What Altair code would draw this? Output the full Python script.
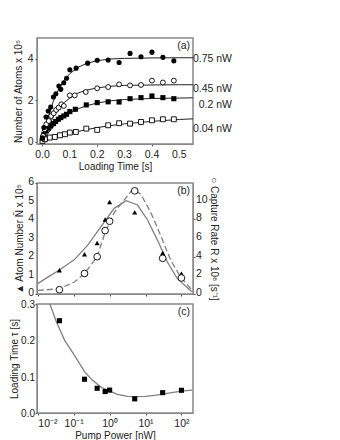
import altair as alt
import pandas as pd

# ---------------- Panel (a): loading curves ----------------
a_labels = ["0.75 nW", "0.45 nW", "0.2 nW", "0.04 nW"]

t_075 = [0.0, 0.005, 0.013, 0.021, 0.03, 0.04, 0.049, 0.06, 0.067, 0.078, 0.088, 0.1, 0.123, 0.165, 0.2, 0.24, 0.28, 0.32, 0.36, 0.40, 0.44, 0.48]
n_075 = [0.2, 0.69, 1.2, 1.49, 1.68, 2.16, 2.32, 2.69, 2.53, 2.85, 3.06, 3.47, 3.55, 3.79, 3.93, 3.94, 3.82, 4.26, 4.1, 4.32, 4.07, 3.9]

t_045 = [0.002, 0.008, 0.014, 0.023, 0.032, 0.041, 0.05, 0.059, 0.069, 0.078, 0.1, 0.118, 0.158, 0.2, 0.24, 0.28, 0.32, 0.36, 0.40, 0.44, 0.48]
n_045 = [0.29, 0.61, 0.85, 1.01, 1.25, 1.38, 1.54, 1.65, 1.81, 1.73, 2.24, 2.24, 2.4, 2.58, 2.64, 2.77, 2.72, 2.74, 2.95, 2.86, 2.95]

t_020 = [0.0, 0.005, 0.013, 0.021, 0.03, 0.04, 0.048, 0.058, 0.067, 0.078, 0.088, 0.1, 0.12, 0.16, 0.2, 0.24, 0.28, 0.32, 0.36, 0.40, 0.44, 0.48]
n_020 = [0.18, 0.37, 0.53, 0.66, 0.77, 0.88, 0.98, 1.09, 1.17, 1.25, 1.33, 1.46, 1.57, 1.78, 1.89, 1.93, 1.92, 2.08, 2.13, 2.21, 2.13, 2.08]

t_004 = [0.0, 0.009, 0.027, 0.045, 0.064, 0.082, 0.1, 0.122, 0.16, 0.2, 0.24, 0.28, 0.32, 0.36, 0.40, 0.44, 0.48]
n_004 = [0.05, 0.13, 0.21, 0.24, 0.32, 0.37, 0.45, 0.48, 0.64, 0.58, 0.8, 0.9, 0.88, 0.96, 1.04, 1.09, 1.09]

# fitted curves
t_fit = [0.0, 0.02, 0.04, 0.06, 0.08, 0.1, 0.13, 0.16, 0.2, 0.25, 0.3, 0.4, 0.5, 0.55]
f_075 = [0.0, 1.15, 1.97, 2.56, 2.98, 3.28, 3.59, 3.77, 3.91, 3.99, 4.02, 4.04, 4.05, 4.05]
f_045 = [0.0, 0.70, 1.22, 1.61, 1.90, 2.11, 2.35, 2.49, 2.60, 2.68, 2.72, 2.74, 2.75, 2.75]
f_020 = [0.0, 0.41, 0.74, 1.01, 1.22, 1.39, 1.59, 1.74, 1.87, 1.98, 2.04, 2.09, 2.11, 2.12]
f_004 = [0.0, 0.096, 0.185, 0.266, 0.34, 0.41, 0.50, 0.59, 0.69, 0.79, 0.87, 0.99, 1.08, 1.11]

label_y = [4.0, 2.55, 1.8, 0.62]

a_xticks = [0.0, 0.1, 0.2, 0.3, 0.4, 0.5]
a_xlabels = ["0.0", "0.1", "0.2", "0.3", "0.4", "0.5"]
a_yticks = [0, 2, 4]

# ---------------- Panel (b): atom number & capture rate ----------------
power = [0.04, 0.2, 0.45, 0.75, 1.0, 5.0, 30.0, 100.0]
atom_n = [1.28, 2.15, 2.76, 4.03, 4.97, 4.41, 2.22, 1.1]
capture_r = [0.46, 2.2, 4.0, 6.8, 7.8, 11.06, 3.83, 1.72]

p_fit_n = [0.01, 0.019, 0.039, 0.105, 0.245, 0.57, 1.34, 2.9, 6.0, 11.4, 21.6, 40.6, 77.0, 178.0, 200.0]
fit_n = [0.56, 0.91, 1.28, 1.86, 2.64, 3.63, 4.63, 5.04, 4.81, 4.0, 2.9, 1.73, 0.83, 0.19, 0.12]
p_fit_r = [0.01, 0.039, 0.105, 0.2, 0.45, 0.74, 1.34, 4.4, 7.4, 14.1, 27.0, 50.0, 95.0, 200.0]
fit_r = [0.38, 0.56, 1.28, 2.2, 4.0, 6.54, 8.72, 11.24, 10.7, 8.72, 6.18, 3.64, 1.82, 0.38]

b_lticks = [0, 1, 2, 3, 4, 5, 6]
b_llabels = ["0", "1", "2", "3", "4", "5", "6"]
b_rticks = [0, 2, 4, 6, 8, 10]
b_rlabels = ["0", "2", "4", "6", "8", "10"]

# ---------------- Panel (c): loading time ----------------
tau = [0.254, 0.093, 0.068, 0.059, 0.063, 0.039, 0.056, 0.0625]
p_fit_tau = [0.02, 0.032, 0.056, 0.1, 0.2, 0.32, 0.575, 1.0, 1.66, 3.16, 5.0, 10.0, 20.0, 40.0, 100.0, 200.0]
fit_tau = [0.31, 0.254, 0.20, 0.162, 0.114, 0.092, 0.071, 0.060, 0.051, 0.046, 0.045, 0.046, 0.049, 0.054, 0.060, 0.063]

c_yticks = [0.0, 0.1, 0.2, 0.3]
c_ylabels = ["0.0", "0.1", "0.2", "0.3"]
pvals = [0.01, 0.1, 1, 10, 100]

W = 156
HA, HB, HC = 106, 111, 109
FONT = "Liberation Sans"
FS = 10.5
GRAY = "#808080"
TXT = "#222"


def tick_text(df, size=FS, **kw):
    return alt.Chart(df).mark_text(font=FONT, fontSize=size, color=TXT, **kw)


# ---------- build panel (a) ----------
pts_frames = []
for lab, ts, ns in [(a_labels[0], t_075, n_075), (a_labels[1], t_045, n_045),
                    (a_labels[2], t_020, n_020), (a_labels[3], t_004, n_004)]:
    pts_frames.append(pd.DataFrame({"t": ts, "N": ns, "series": lab}))
pts_a = pd.concat(pts_frames)
fit_a = pd.concat([pd.DataFrame({"t": t_fit, "N": f, "series": lab})
                   for lab, f in zip(a_labels, [f_075, f_045, f_020, f_004])])
lab_a = pd.DataFrame({"N": label_y, "text": a_labels})

xa = alt.X("t:Q", scale=alt.Scale(domain=[-0.02, 0.55], nice=False, zero=False),
           axis=alt.Axis(values=a_xticks, labels=False, title="Loading Time [s]",
                         titlePadding=15, grid=False))
ya = alt.Y("N:Q", scale=alt.Scale(domain=[-0.1, 5.0], nice=False, zero=False),
           axis=alt.Axis(values=a_yticks, format="d", title="Number of Atoms x 10⁵",
                         grid=False, labelPadding=2, titlePadding=4))

lines_a = alt.Chart(fit_a).mark_line(color="#222", strokeWidth=1, clip=True).encode(
    x=xa, y=ya, detail="series:N")


def pts(lab, shape, filled):
    base = alt.Chart(pts_a[pts_a.series == lab])
    if filled:
        m = base.mark_point(shape=shape, filled=True, color="black", size=26, opacity=1)
    else:
        m = base.mark_point(shape=shape, filled=True, fill="white", stroke="black",
                            strokeWidth=0.9, size=24, opacity=1)
    return m.encode(x="t:Q", y="N:Q")


xlab_a = tick_text(pd.DataFrame({"t": a_xticks, "lab": a_xlabels}),
                   align="center", baseline="top").encode(
    x="t:Q", y=alt.value(HA + 6), text="lab:N")
side_a = tick_text(lab_a, align="right", baseline="middle").encode(
    x=alt.value(W + 39), y="N:Q", text="text:N")
tag_a = tick_text(pd.DataFrame({"s": ["(a)"]}), align="right", baseline="top").encode(
    x=alt.value(W - 3), y=alt.value(3), text="s:N")

panel_a = alt.layer(lines_a, pts(a_labels[3], "square", False), pts(a_labels[2], "square", True),
                    pts(a_labels[1], "circle", False), pts(a_labels[0], "circle", True),
                    xlab_a, side_a, tag_a).properties(width=W, height=HA)

# ---------- build panel (b) ----------
xscale = alt.Scale(type="log", domain=[0.0095, 210], nice=False)

df_b = pd.DataFrame({"P": power, "N": atom_n, "R": capture_r})
df_fn = pd.DataFrame({"P": p_fit_n, "N": fit_n})
df_fr = pd.DataFrame({"P": p_fit_r, "R": fit_r})

xb = alt.X("P:Q", scale=xscale, axis=alt.Axis(values=pvals, labels=False, title=None, grid=False))
yb_left = alt.Y("N:Q", scale=alt.Scale(domain=[0, 6], nice=False),
                axis=alt.Axis(values=b_lticks, labels=False, grid=False, titlePadding=10,
                              title="▲ Atom Number N̄  x 10⁵"))
yb_right = alt.Y("R:Q", scale=alt.Scale(domain=[0, 11.9], nice=False),
                 axis=alt.Axis(orient="right", values=b_rticks, labels=False, grid=False,
                               titlePadding=13, title="○ Capture Rate R x 10⁶  [s⁻¹]"))

left_b = alt.layer(
    alt.Chart(df_fn).mark_line(color=GRAY, strokeWidth=1.3, clip=True).encode(x=xb, y=yb_left),
    alt.Chart(df_b).mark_point(shape="triangle-up", filled=True, color="black", size=26, opacity=1).encode(
        x="P:Q", y="N:Q"),
    tick_text(pd.DataFrame({"N": b_lticks, "lab": b_llabels}), align="right", baseline="middle",
              dy=-1).encode(x=alt.value(-3), y="N:Q", text="lab:N"),
)
right_b = alt.layer(
    alt.Chart(df_fr).mark_line(color=GRAY, strokeWidth=1.3, strokeDash=[6, 3], clip=True).encode(
        x=xb, y=yb_right),
    alt.Chart(df_b).mark_point(shape="circle", filled=True, fill="white", stroke="black",
                               strokeWidth=0.9, size=45, opacity=1).encode(x="P:Q", y="R:Q"),
    tick_text(pd.DataFrame({"R": b_rticks, "lab": b_rlabels}), align="left", baseline="middle",
              dy=-1).encode(x=alt.value(W + 3), y="R:Q", text="lab:N"),
)
tag_b = tick_text(pd.DataFrame({"s": ["(b)"]}), align="right", baseline="top").encode(
    x=alt.value(W - 3), y=alt.value(3), text="s:N")

panel_b = alt.layer(left_b, right_b, tag_b).resolve_scale(y="independent").properties(
    width=W, height=HB)

# ---------- build panel (c) ----------
log_labels = ("round(log(datum.value)/LN10) == -2 ? '10⁻²' : "
              "round(log(datum.value)/LN10) == -1 ? '10⁻¹' : "
              "round(log(datum.value)/LN10) == 0 ? '10⁰' : "
              "round(log(datum.value)/LN10) == 1 ? '10¹' : '10²'")
df_c = pd.DataFrame({"P": power, "tau": tau})
df_fc = pd.DataFrame({"P": p_fit_tau, "tau": fit_tau})
xc = alt.X("P:Q", scale=xscale, axis=alt.Axis(values=pvals, labelExpr=log_labels, labelPadding=3,
                                              labelOverlap=False, title="Pump Power [nW]", grid=False))
yc = alt.Y("tau:Q", scale=alt.Scale(domain=[0, 0.3], nice=False),
           axis=alt.Axis(values=c_yticks, labels=False, grid=False, titlePadding=15,
                         title="Loading Time  τ  [s]"))
panel_c = alt.layer(
    alt.Chart(df_fc).mark_line(color=GRAY, strokeWidth=1.3, clip=True).encode(x=xc, y=yc),
    alt.Chart(df_c).mark_point(shape="square", filled=True, color="black", size=26, opacity=1).encode(
        x="P:Q", y="tau:Q"),
    tick_text(pd.DataFrame({"tau": c_yticks, "lab": c_ylabels}), size=10, align="right",
              baseline="middle", dy=1).encode(x=alt.value(-2), y="tau:Q", text="lab:N"),
    tick_text(pd.DataFrame({"s": ["(c)"]}), align="right", baseline="top").encode(
        x=alt.value(W - 3), y=alt.value(3), text="s:N"),
).properties(width=W, height=HC)

chart = alt.vconcat(
    panel_a,
    alt.vconcat(panel_b, panel_c, spacing=10, bounds="flush"),
    spacing=39, bounds="flush"
).properties(
    padding={"top": 29, "left": 0, "right": 5, "bottom": 5}
).configure_view(stroke="#888", strokeWidth=1.5).configure_axis(
    labelFont=FONT, titleFont=FONT, labelFontSize=FS, titleFontSize=10,
    titleFontWeight="normal", labelColor=TXT, titleColor=TXT,
    domainColor="#888", tickColor="#555", tickSize=2, labelPadding=1, titlePadding=2
).configure_text(font=FONT)

chart.save("out.html", embed_options={"renderer": "svg", "actions": False})
